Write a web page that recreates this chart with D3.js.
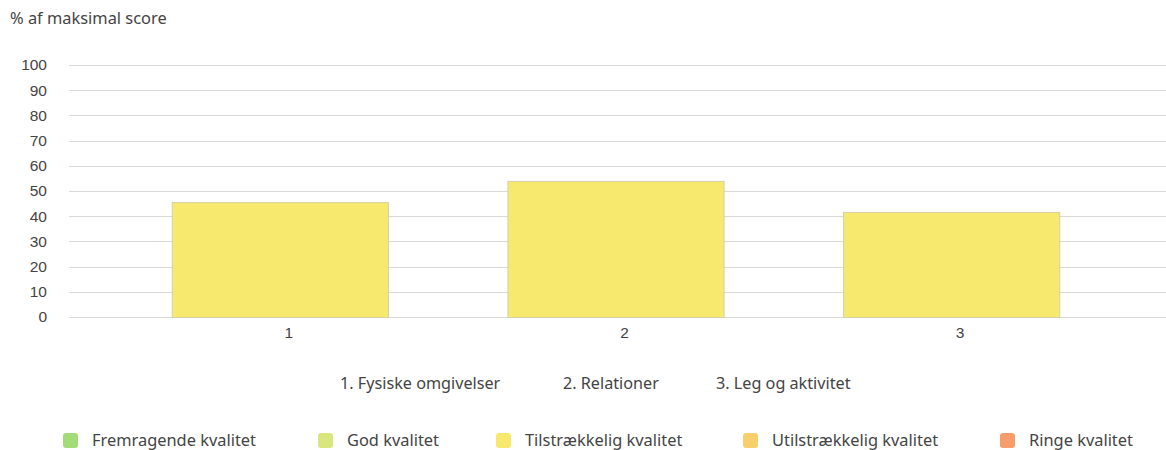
<!DOCTYPE html>
<html>
<head>
<meta charset="utf-8">
<script src="https://cdn.jsdelivr.net/npm/d3@7"></script>
<style>
  body { margin: 0; background: #fff; }
  svg text { fill: #444; }
  .tick text { font-family: "Liberation Sans", Arial, sans-serif; font-size: 15.5px; }
</style>
</head>
<body>
<div id="chart"></div>
<script>
const categories = ['1', '2', '3'];
const values = [45.6, 54.0, 41.7];
const categoryNames = ['1. Fysiske omgivelser', '2. Relationer', '3. Leg og aktivitet'];
const yTicks = [0, 10, 20, 30, 40, 50, 60, 70, 80, 90, 100];
const legendLabels = ['Fremragende kvalitet', 'God kvalitet', 'Tilstrækkelig kvalitet', 'Utilstrækkelig kvalitet', 'Ringe kvalitet'];
const legendColors = ['#a2dc78', '#d9e67e', '#f7e96d', '#f7cf6b', '#f79c6b'];

const width = 1166, height = 450;
const font = '"Noto Sans", "Open Sans", sans-serif';

const svg = d3.select('#chart')
  .append('svg')
  .attr('width', width)
  .attr('height', height);

svg.append('text')
  .attr('x', 10)
  .attr('y', 24)
  .attr('font-family', font)
  .attr('font-size', 16.4)
  .text('% af maksimal score');

const y = d3.scaleLinear()
  .domain([0, 100])
  .range([317, 65]);

const x = d3.scaleBand()
  .domain(categories)
  .range([112, 1119])
  .paddingInner(0.356)
  .paddingOuter(0.178);

// grid
svg.append('g')
  .selectAll('line')
  .data(yTicks)
  .enter().append('line')
    .attr('x1', 69)
    .attr('x2', width)
    .attr('y1', d => Math.round(y(d)) + 0.5)
    .attr('y2', d => Math.round(y(d)) + 0.5)
    .attr('stroke', '#d9d9d9')
    .attr('stroke-width', 1);

// y axis labels
const yAxis = d3.axisLeft(y).tickValues(yTicks).tickSize(0).tickPadding(0);
const gy = svg.append('g')
  .attr('transform', 'translate(47,0)')
  .call(yAxis);
gy.select('.domain').remove();
gy.selectAll('text').attr('fill', '#444');

// bars
svg.selectAll('.bar')
  .data(values)
  .enter().append('rect')
    .attr('class', 'bar')
    .attr('x', (d, i) => x(categories[i]) + 0.5)
    .attr('width', x.bandwidth())
    .attr('y', d => y(d) + 0.5)
    .attr('height', d => y(0) - y(d))
    .attr('fill', '#f7e96d')
    .attr('stroke', '#d4d0a8')
    .attr('stroke-width', 1);

// x axis labels
const xAxis = d3.axisBottom(x).tickSize(0).tickPadding(0);
const gx = svg.append('g')
  .attr('transform', 'translate(9,327)')
  .call(xAxis);
gx.select('.domain').remove();
gx.selectAll('text').attr('fill', '#444');

// category name legend
const nameX = [340, 563, 716];
svg.append('g')
  .selectAll('text')
  .data(categoryNames)
  .enter().append('text')
    .attr('x', (d, i) => nameX[i])
    .attr('y', 389)
    .attr('font-family', font)
    .attr('font-size', 16.2)
    .text(d => d);

// quality legend
const legX = [63, 318, 496, 743, 1000];
const leg = svg.append('g')
  .selectAll('g')
  .data(legendLabels)
  .enter().append('g')
    .attr('transform', (d, i) => `translate(${legX[i]},433)`);

leg.append('rect')
  .attr('width', 15)
  .attr('height', 15)
  .attr('rx', 3)
  .attr('fill', (d, i) => legendColors[i]);

leg.append('text')
  .attr('x', 29)
  .attr('y', 13)
  .attr('font-family', font)
  .attr('font-size', 16.4)
  .text(d => d);
</script>
</body>
</html>
